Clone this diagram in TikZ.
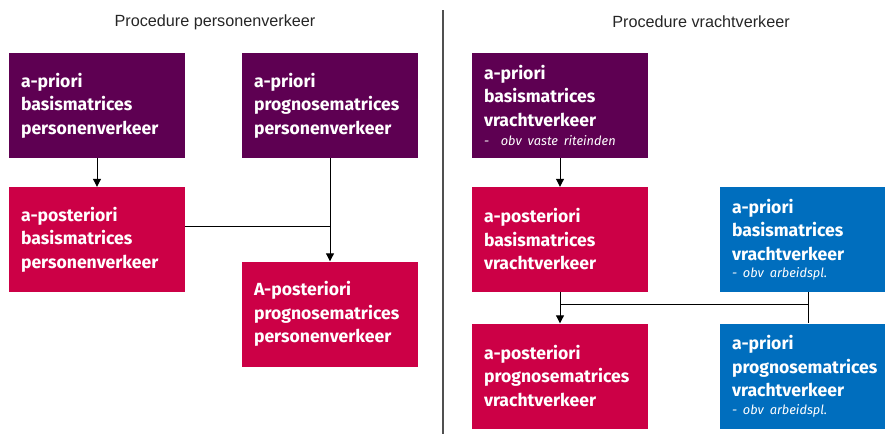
\documentclass[tikz,border=0pt]{standalone}
\usepackage{fontspec}
\setmainfont{Fira Sans}
\newfontfamily\titlefont{Liberation Sans}
\newfontfamily\notefont{Fira Sans}[WordSpace=0.6]
\usetikzlibrary{arrows.meta}
\definecolor{cpurple}{RGB}{94,0,82}
\definecolor{cred}{RGB}{204,0,70}
\definecolor{cblue}{RGB}{0,110,190}
\definecolor{cdiv}{RGB}{80,80,80}
\tikzset{
  box/.style={rectangle, minimum width=176pt, minimum height=105pt, text width=152pt,
    inner xsep=12pt, inner ysep=0pt, align=left, text=white,
    font=\bfseries\fontsize{17.6}{23.5}\selectfont},
  purplebox/.style={box, fill=cpurple},
  redbox/.style={box, fill=cred},
  bluebox/.style={box, fill=cblue},
  ptitle/.style={font=\titlefont\fontsize{16.2}{19}\selectfont, text=black!85},
  conn/.style={draw=black, line width=1pt},
  arr/.style={conn, -{Triangle[length=8pt,width=8pt]}},
  divider/.style={draw=cdiv, line width=1.3pt}
}
\newcommand{\subnote}[1]{{\notefont\mdseries\itshape\fontsize{12.8}{14}\selectfont #1}}
\begin{document}
\begin{tikzpicture}[x=1pt,y=-1pt]
\useasboundingbox (0,0) rectangle (885,434);
% titles
\node[ptitle] (t1) at (215,22) {Procedure personenverkeer};
\node[ptitle] (t2) at (701,22) {Procedure vrachtverkeer};
% divider
\coordinate (d1) at (443,10);
\coordinate (d2) at (443,434);
\draw[divider] (d1) -- (d2);
% left side
\node[purplebox] (A) at (97,105.5) {a-priori\\basismatrices\\personenverkeer};
\node[purplebox] (B) at (330,105.5) {a-priori\\prognosematrices\\personenverkeer};
\node[redbox] (C) at (97,239.5) {a-posteriori\\basismatrices\\personenverkeer};
\node[redbox] (D) at (330,314) {A-posteriori\\prognosematrices\\personenverkeer};
% right side
\node[purplebox] (E) at (560,105.5) {a-priori\\basismatrices\\vrachtverkeer\\[-4pt]\subnote{-\ \ obv vaste riteinden}};
\node[redbox] (F) at (560,239.5) {a-posteriori\\basismatrices\\vrachtverkeer};
\node[bluebox] (G) at (808,239.5) {a-priori\\basismatrices\\vrachtverkeer\\[-6pt]\subnote{- obv arbeidspl.}};
\node[redbox] (H) at (560,376) {a-posteriori\\prognosematrices\\vrachtverkeer};
\node[bluebox] (I) at (808,376) {a-priori\\prognosematrices\\vrachtverkeer\\[-6pt]\subnote{- obv arbeidspl.}};
% connectors left
\draw[arr] (A) -- (C);
\draw[arr] (B) -- (D);
\coordinate (j1) at (330,226);
\draw[conn] (C.east |- j1) -- (j1);
% connectors right
\draw[arr] (E) -- (F);
\draw[arr] (F) -- (H);
\coordinate (j2) at (560,304);
\coordinate (j3) at (808,304);
\draw[conn] (j2) -- (j3);
\draw[conn] (G) -- (I);
\end{tikzpicture}
\end{document}
